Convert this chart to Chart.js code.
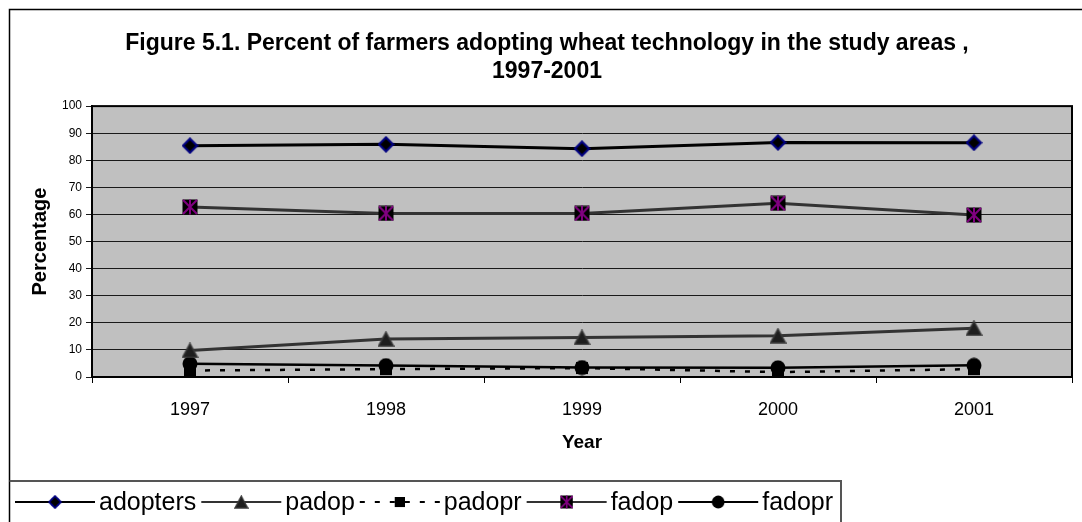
<!DOCTYPE html>
<html>
<head>
<meta charset="utf-8">
<title>Percent of farmers adopting wheat technology, 1997-2001</title>
<script src="https://cdn.jsdelivr.net/npm/chart.js@4/dist/chart.umd.min.js"></script>
<style>
  html, body { margin: 0; padding: 0; background: #ffffff; }
  canvas { display: block; }
</style>
</head>
<body>
<canvas id="chart" width="1082" height="522"></canvas>
<script>
// Survey years and adoption rates (%)
const years    = ['1997', '1998', '1999', '2000', '2001'];
const adopters = [85.4, 85.9, 84.3, 86.6, 86.5];
const padop    = [9.8, 14.0, 14.6, 15.2, 18.0];
const padopr   = [2.4, 2.9, 3.3, 1.8, 2.9];
const fadop    = [62.8, 60.4, 60.4, 64.1, 59.8];
const fadopr   = [4.9, 4.2, 3.5, 3.4, 4.3];

// Percentage axis
const yMin = 0;
const yMax = 100;
const yStep = 10;

const FONT = '"Liberation Sans", Arial, Helvetica, sans-serif';

// Marker glyphs drawn once onto small canvases and reused as point styles
function marker(w, h, paint) {
  const c = document.createElement('canvas');
  c.width = w; c.height = h;
  paint(c.getContext('2d'), w, h);
  return c;
}

const diamondMark = marker(17, 17, (g, w, h) => {
  g.beginPath();
  g.moveTo(w / 2, 1.5); g.lineTo(w - 1.5, h / 2); g.lineTo(w / 2, h - 1.5); g.lineTo(1.5, h / 2);
  g.closePath();
  g.fillStyle = '#000000'; g.fill();
  g.lineWidth = 2.2; g.strokeStyle = '#000080'; g.stroke();
});

const triangleMark = marker(17, 16, (g, w, h) => {
  g.beginPath();
  g.moveTo(w / 2, 1); g.lineTo(w - 1, h - 1); g.lineTo(1, h - 1);
  g.closePath();
  g.fillStyle = '#1e1e1e'; g.fill();
  g.lineWidth = 1.5; g.strokeStyle = '#3a3a3a'; g.stroke();
});

const squareMark = marker(14, 14, (g, w, h) => {
  g.fillStyle = '#000000';
  g.fillRect(1, 1, w - 2, h - 2);
});

const starSquareMark = marker(16, 16, (g, w, h) => {
  g.fillStyle = '#000000';
  g.fillRect(0.5, 0.5, w - 1, h - 1);
  g.strokeStyle = '#800080';
  g.lineWidth = 2;
  g.beginPath();
  g.moveTo(w / 2, 0.5); g.lineTo(w / 2, h - 0.5);
  g.moveTo(1, 1); g.lineTo(w - 1, h - 1);
  g.moveTo(w - 1, 1); g.lineTo(1, h - 1);
  g.stroke();
});

const circleMark = marker(16, 16, (g, w, h) => {
  g.beginPath();
  g.arc(w / 2, h / 2, 7.5, 0, Math.PI * 2);
  g.fillStyle = '#000000'; g.fill();
});

// Grey plot background, plot frame, outer frame and the boxed legend
const chartDecor = {
  id: 'chartDecor',
  beforeDraw(chart) {
    const { ctx, chartArea: a } = chart;
    ctx.save();
    ctx.fillStyle = '#ffffff';
    ctx.fillRect(0, 0, chart.width, chart.height);
    ctx.fillStyle = '#c0c0c0';
    ctx.fillRect(a.left, a.top, a.right - a.left, a.bottom - a.top);
    ctx.restore();
  },
  beforeDatasetsDraw(chart) {
    const { ctx, chartArea: a } = chart;
    ctx.save();
    ctx.strokeStyle = '#000000';
    ctx.lineWidth = 2;
    ctx.strokeRect(a.left, a.top, a.right - a.left, a.bottom - a.top);
    ctx.restore();
  },
  afterDraw(chart) {
    const { ctx } = chart;
    ctx.save();
    // outer chart border
    ctx.strokeStyle = '#000000';
    ctx.lineWidth = 1.5;
    ctx.beginPath();
    ctx.moveTo(9.5, chart.height);
    ctx.lineTo(9.5, 9.5);
    ctx.lineTo(chart.width, 9.5);
    ctx.stroke();

    // legend box
    const boxTop = 481, boxRight = 841;
    ctx.strokeStyle = '#555555';
    ctx.lineWidth = 2;
    ctx.beginPath();
    ctx.moveTo(9.5, boxTop);
    ctx.lineTo(boxRight, boxTop);
    ctx.lineTo(boxRight, chart.height);
    ctx.stroke();

    // legend entries: line sample with marker, then the series name
    const y = 502;
    let x = 15;
    ctx.font = '25px ' + FONT;
    ctx.textBaseline = 'middle';
    ctx.textAlign = 'left';
    chart.data.datasets.forEach(ds => {
      ctx.save();
      ctx.strokeStyle = ds.borderColor;
      ctx.lineWidth = 2.2;
      ctx.setLineDash(ds.borderDash || []);
      ctx.beginPath();
      ctx.moveTo(x, y);
      ctx.lineTo(x + 80, y);
      ctx.stroke();
      ctx.restore();
      const m = ds.pointStyle;
      const s = 0.85;
      ctx.drawImage(m, x + 40 - m.width * s / 2, y - m.height * s / 2, m.width * s, m.height * s);
      ctx.fillStyle = '#000000';
      ctx.fillText(ds.label, x + 84, y + 1);
      x += 84 + ctx.measureText(ds.label).width + 5;
    });
    ctx.restore();
  }
};

new Chart(document.getElementById('chart'), {
  type: 'line',
  data: {
    labels: years,
    datasets: [
      { label: 'adopters', data: adopters, borderColor: '#000000', borderWidth: 3, pointStyle: diamondMark },
      { label: 'padop',    data: padop,    borderColor: '#333333', borderWidth: 3, pointStyle: triangleMark },
      { label: 'padopr',   data: padopr,   borderColor: '#000000', borderWidth: 2.5, borderDash: [5, 10], pointStyle: squareMark },
      { label: 'fadop',    data: fadop,    borderColor: '#333333', borderWidth: 3, pointStyle: starSquareMark },
      { label: 'fadopr',   data: fadopr,   borderColor: '#000000', borderWidth: 2.5, pointStyle: circleMark }
    ].map(d => Object.assign({ fill: false, tension: 0, pointRadius: 7, pointHoverRadius: 7 }, d))
  },
  options: {
    responsive: false,
    animation: false,
    events: [],
    layout: { padding: { left: 21, right: 9, top: 0, bottom: 0 } },
    plugins: {
      legend: { display: false },
      tooltip: { enabled: false },
      title: {
        display: true,
        text: ['Figure 5.1. Percent of farmers adopting wheat technology in the study areas ,', '1997-2001'],
        color: '#000000',
        font: { family: FONT, size: 23, weight: 'bold', lineHeight: 1.22 },
        padding: { top: 30, bottom: 20 }
      }
    },
    scales: {
      x: {
        type: 'category',
        offset: true,
        grid: { display: true, drawOnChartArea: false, drawTicks: true, tickLength: 6, offset: true, color: '#000000', lineWidth: 1 },
        border: { display: true, color: '#000000', width: 2 },
        ticks: { color: '#000000', padding: 16, font: { family: FONT, size: 18 } },
        title: {
          display: true, text: 'Year', color: '#000000',
          font: { family: FONT, size: 19, weight: 'bold', lineHeight: 1.2 },
          padding: { top: 0, bottom: 68 }
        },
        afterFit(scale) { scale.height = 145; }
      },
      y: {
        min: yMin,
        max: yMax,
        grid: { color: '#1a1a1a', lineWidth: 1, tickLength: 6, drawTicks: true },
        border: { display: true, color: '#000000', width: 2 },
        ticks: { stepSize: yStep, color: '#000000', padding: 4, font: { family: FONT, size: 12 } },
        title: {
          display: true, text: 'Percentage', color: '#000000',
          font: { family: FONT, size: 20, weight: 'bold', lineHeight: 1.2 },
          padding: { top: 7, bottom: 0 }
        },
        afterFit(scale) { scale.width = 71; }
      }
    }
  },
  plugins: [chartDecor]
});
</script>
</body>
</html>
